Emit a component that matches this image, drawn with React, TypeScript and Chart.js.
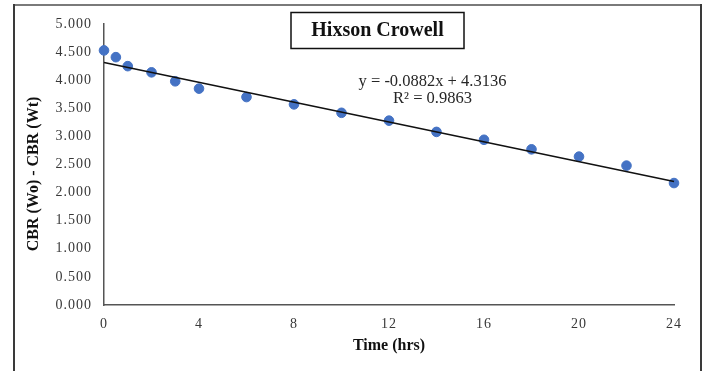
import React, { useEffect, useRef } from "react";
import { Chart, registerables } from "chart.js";

Chart.register(...registerables);

const times = [0, 0.5, 1, 2, 3, 4, 6, 8, 10, 12, 14, 16, 18, 20, 22, 24];
const values = [4.53, 4.41, 4.25, 4.14, 3.98, 3.85, 3.70, 3.57, 3.42, 3.28, 3.08, 2.94, 2.77, 2.64, 2.48, 2.17];
const trendSlope = -0.0882;
const trendIntercept = 4.3136;
const trendRange = [0, 24];
const titleText = "Hixson Crowell";
const equationText = "y = -0.0882x + 4.3136";
const r2Text = "R\u00B2 = 0.9863";
const xTitle = "Time (hrs)";
const yTitle = "CBR (Wo) - CBR (Wt)";

const SERIF = '"Liberation Serif", "Times New Roman", serif';

const decorPlugin = {
  id: "decor",
  beforeDraw(chart: any) {
    const ctx = chart.ctx;
    ctx.save();
    ctx.fillStyle = "#ffffff";
    ctx.fillRect(0, 0, chart.width, chart.height);
    ctx.restore();
    (ctx as any).letterSpacing = "1px";
  },
  afterDraw(chart: any) {
    const ctx = chart.ctx;
    ctx.save();
    (ctx as any).letterSpacing = "0px";
    // outer border
    ctx.lineWidth = 2;
    ctx.strokeStyle = "#7a7a7a";
    ctx.beginPath();
    ctx.moveTo(14, 5);
    ctx.lineTo(701, 5);
    ctx.stroke();
    ctx.strokeStyle = "#3a3a3a";
    ctx.beginPath();
    ctx.moveTo(14, 4);
    ctx.lineTo(14, 380);
    ctx.moveTo(701, 4);
    ctx.lineTo(701, 380);
    ctx.stroke();
    // title box
    ctx.strokeStyle = "#111";
    ctx.lineWidth = 1.5;
    ctx.strokeRect(291, 12.5, 173, 36);
    ctx.fillStyle = "#111";
    ctx.font = `bold 20px ${SERIF}`;
    ctx.textAlign = "center";
    ctx.textBaseline = "middle";
    ctx.fillText(titleText, 377.5, 31);
    // equation
    ctx.fillStyle = "#262626";
    ctx.font = `16.5px ${SERIF}`;
    ctx.fillText(equationText, 432.5, 82);
    ctx.fillText(r2Text, 432.5, 99);
    // x title
    const area = chart.chartArea;
    ctx.fillStyle = "#111";
    ctx.font = `bold 16px ${SERIF}`;
    ctx.fillText(xTitle, (area.left + area.right) / 2, 346);
    // y title
    ctx.translate(34, 174);
    ctx.rotate(-Math.PI / 2);
    ctx.fillText(yTitle, 0, 0);
    ctx.restore();
  },
};

export default function App() {
  const ref = useRef<HTMLCanvasElement>(null);
  useEffect(() => {
    document.body.style.margin = "0";
    const trend = trendRange.map((x) => ({ x, y: trendIntercept + trendSlope * x }));
    const points = times.map((t, i) => ({ x: t, y: values[i] }));
    const chart = new Chart(ref.current!, {
      type: "scatter",
      data: {
        datasets: [
          {
            type: "line",
            data: trend,
            borderColor: "#111",
            borderWidth: 1.6,
            pointRadius: 0,
            fill: false,
            clip: false,
            order: 0,
          } as any,
          {
            data: points,
            backgroundColor: "#4472C4",
            borderColor: "#4472C4",
            pointRadius: 4.8,
            clip: false,
            order: 1,
          },
        ],
      },
      options: {
        animation: false,
        responsive: false,
        maintainAspectRatio: false,
        devicePixelRatio: 1,
        layout: { padding: { left: 0, top: 24, right: 34, bottom: 0 } },
        plugins: { legend: { display: false }, tooltip: { enabled: false } },
        scales: {
          x: {
            type: "linear",
            min: 0,
            max: 24,
            grid: { display: false, drawTicks: false },
            border: { display: true, color: "#555", width: 1.5 },
            ticks: {
              stepSize: 4,
              padding: 11,
              color: "#383838",
              font: { family: SERIF, size: 14 },
              maxRotation: 0,
            },
            afterFit(scale: any) {
              scale.height = 66;
            },
          },
          y: {
            type: "linear",
            min: 0,
            max: 5,
            grid: { display: false, drawTicks: false },
            border: { display: true, color: "#555", width: 1.5 },
            ticks: {
              stepSize: 0.5,
              padding: 12,
              color: "#383838",
              font: { family: SERIF, size: 14 },
              callback: (v: any) => Number(v).toFixed(3),
            },
            afterFit(scale: any) {
              scale.width = 104;
            },
          },
        },
      } as any,
      plugins: [decorPlugin],
    });
    return () => chart.destroy();
  }, []);
  return (
    <div style={{ position: "fixed", left: 0, top: 0, width: 708, height: 371 }}>
      <canvas ref={ref} width={708} height={371} style={{ width: 708, height: 371 }} />
    </div>
  );
}
